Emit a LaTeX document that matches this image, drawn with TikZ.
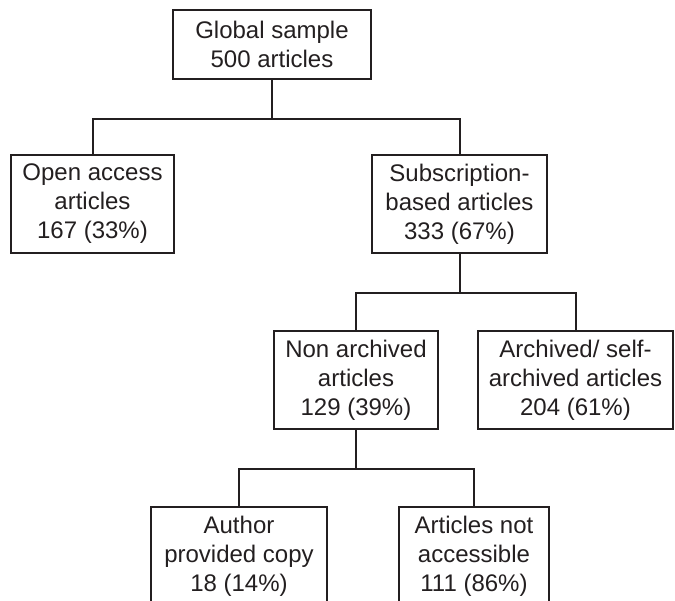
\documentclass[tikz,border=0pt]{standalone}
\usepackage{fontspec}
\setmainfont{Liberation Sans}
\definecolor{ink}{HTML}{231F20}
\begin{document}
\begin{tikzpicture}[x=1pt,y=-1pt,
  box/.style={draw=ink, line width=2pt, rectangle, inner sep=0pt,
    minimum height=98pt, align=center, text=ink,
    font=\fontsize{24}{29}\selectfont},
  conn/.style={draw=ink, line width=2pt}]
\useasboundingbox (0,0) rectangle (675,601);
\clip (0,0) rectangle (675,601);
\node[box, minimum width=198pt, minimum height=69pt] (top) at (272,44.5) {Global sample\\500 articles};
\node[box, minimum width=163pt] (open) at (92.5,204) {Open access\\articles\\167 (33\%)};
\node[box, minimum width=175pt] (sub) at (459.5,204) {Subscription-\\based articles\\333 (67\%)};
\node[box, minimum width=164pt] (non) at (356,380) {Non archived\\articles\\129 (39\%)};
\node[box, minimum width=195pt] (arch) at (575.5,380) {Archived/ self-\\archived articles\\204 (61\%)};
\node[box, minimum width=176pt] (auth) at (239,556) {Author\\provided copy\\18 (14\%)};
\node[box, minimum width=150pt] (nacc) at (474,556) {Articles not\\accessible\\111 (86\%)};
\draw[conn] (top.south) -- ++(0,39) -| (open.north);
\draw[conn] (top.south) -- ++(0,39) -| (sub.north);
\draw[conn] (sub.south) -- ++(0,39) -| (non.north);
\draw[conn] (sub.south) -- ++(0,39) -| (arch.north);
\draw[conn] (non.south) -- ++(0,39) -| (auth.north);
\draw[conn] (non.south) -- ++(0,39) -| (nacc.north);
\end{tikzpicture}
\end{document}
